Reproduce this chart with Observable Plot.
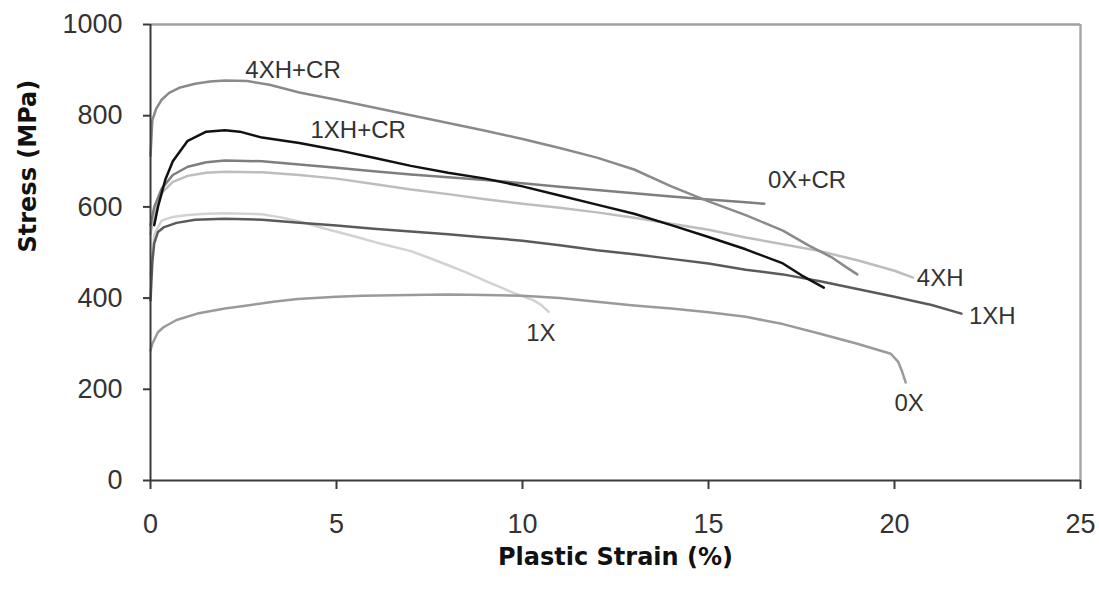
<!DOCTYPE html>
<html>
<head>
<meta charset="utf-8">
<script src="https://cdn.jsdelivr.net/npm/d3@7"></script>
<script src="https://cdn.jsdelivr.net/npm/@observablehq/plot@0.6"></script>
<style>
  html, body { margin: 0; padding: 0; background: #ffffff; }
  #chart { width: 1099px; height: 592px; }
</style>
</head>
<body>
<div id="chart"></div>
<script>
// ---- Data ----
const seriesNames = ["4XH+CR", "1XH+CR", "0X+CR", "4XH", "1XH", "1X", "0X"];

const strain_4XHCR = [0, 0.05, 0.15, 0.3, 0.5, 0.8, 1.2, 1.6, 2.0, 2.6, 3.2, 4.0, 5.0, 6.0, 7.0, 8.0, 9.0, 10.0, 11.0, 12.0, 13.0, 14.0, 15.0, 16.0, 17.0, 17.7, 18.3, 18.7, 19.0];
const stress_4XHCR = [712, 790, 815, 835, 850, 862, 870, 875, 877, 876, 868, 851, 835, 818, 801, 784, 767, 749, 729, 708, 682, 645, 612, 582, 548, 515, 490, 468, 452];

const strain_1XHCR = [0.1, 0.2, 0.4, 0.6, 1.0, 1.5, 2.0, 2.4, 3.0, 4.0, 5.0, 6.0, 7.0, 8.0, 9.0, 10.0, 11.0, 12.0, 13.0, 14.0, 15.0, 16.0, 17.0, 17.5, 18.1];
const stress_1XHCR = [560, 600, 660, 700, 745, 765, 768, 765, 752, 740, 725, 708, 690, 675, 662, 645, 625, 605, 585, 560, 534, 507, 476, 450, 423];

const strain_0XCR = [0, 0.1, 0.3, 0.6, 1.0, 1.5, 2.0, 3.0, 4.0, 5.0, 6.0, 7.0, 8.0, 9.0, 10.0, 11.0, 12.0, 13.0, 14.0, 15.0, 16.0, 16.5];
const stress_0XCR = [560, 600, 640, 670, 688, 698, 702, 700, 693, 686, 678, 671, 665, 659, 652, 644, 637, 630, 623, 616, 610, 607];

const strain_4XH = [0, 0.1, 0.3, 0.6, 1.0, 1.5, 2.0, 3.0, 4.0, 5.0, 6.0, 7.0, 8.0, 9.0, 10.0, 11.0, 12.0, 13.0, 14.0, 15.0, 16.0, 17.0, 18.0, 19.0, 20.0, 20.5];
const stress_4XH = [540, 585, 630, 655, 668, 675, 677, 676, 670, 662, 650, 638, 628, 617, 607, 598, 588, 576, 563, 550, 533, 518, 503, 483, 460, 445];

const strain_1XH = [0, 0.05, 0.1, 0.2, 0.35, 0.7, 1.2, 2.0, 3.0, 4.0, 5.0, 6.0, 7.0, 8.0, 9.0, 10.0, 11.0, 12.0, 13.0, 14.0, 15.0, 16.0, 17.0, 18.0, 19.0, 20.0, 20.6, 21.0, 21.8];
const stress_1XH = [395, 480, 520, 545, 555, 565, 572, 574, 572, 565, 559, 552, 546, 540, 533, 526, 516, 505, 496, 486, 476, 462, 452, 437, 420, 403, 392, 385, 366];

const strain_1X = [0, 0.1, 0.3, 0.6, 1.0, 1.5, 2.0, 3.0, 3.5, 4.0, 4.8, 5.5, 6.2, 7.0, 7.5, 8.0, 8.5, 9.0, 9.4, 9.8, 10.3, 10.5, 10.7];
const stress_1X = [450, 540, 570, 578, 582, 585, 586, 584, 577, 568, 550, 535, 519, 503, 488, 472, 456, 438, 424, 410, 395, 385, 370];

const strain_0X = [0, 0.05, 0.2, 0.35, 0.7, 1.26, 2.0, 2.6, 3.3, 3.95, 5.0, 5.7, 7.0, 8.0, 9.0, 10.0, 11.0, 12.0, 13.0, 14.0, 15.0, 16.0, 17.0, 18.0, 19.0, 19.9, 20.1, 20.2, 20.3];
const stress_0X = [285, 300, 325, 336, 352, 366, 377, 384, 392, 398, 403, 405, 407, 408, 407, 405, 400, 392, 384, 377, 369, 359, 343, 322, 300, 278, 260, 240, 215];

const labelText = ["4XH+CR", "1XH+CR", "0X+CR", "4XH", "1XH", "1X", "0X"];
const labelStrain = [2.55, 4.3, 16.6, 20.6, 22.0, 10.1, 20.0];
const labelStress = [899, 768, 658, 443, 360, 322, 169];

const xTicks = [0, 5, 10, 15, 20, 25];
const yTicks = [0, 200, 400, 600, 800, 1000];

// ---- Build table ----
const strainArrays = [strain_4XHCR, strain_1XHCR, strain_0XCR, strain_4XH, strain_1XH, strain_1X, strain_0X];
const stressArrays = [stress_4XHCR, stress_1XHCR, stress_0XCR, stress_4XH, stress_1XH, stress_1X, stress_0X];
const colors = {
  "4XH+CR": "#8a8a8a",
  "1XH+CR": "#111111",
  "0X+CR": "#7e7e7e",
  "4XH": "#bdbdbd",
  "1XH": "#5a5a5a",
  "1X": "#d2d2d2",
  "0X": "#9a9a9a"
};
const drawOrder = ["1X", "4XH", "0X", "0X+CR", "1XH", "4XH+CR", "1XH+CR"];
const rows = [];
drawOrder.forEach(name => {
  const i = seriesNames.indexOf(name);
  strainArrays[i].forEach((s, j) => rows.push({series: name, strain: s, stress: stressArrays[i][j]}));
});
const labels = labelText.map((t, i) => ({text: t, strain: labelStrain[i], stress: labelStress[i]}));

const tickFont = "'Liberation Sans', Arial, sans-serif";
const titleFont = "'DejaVu Sans', Verdana, sans-serif";

const chart = Plot.plot({
  width: 1099,
  height: 592,
  marginLeft: 150,
  marginRight: 19,
  marginTop: 24,
  marginBottom: 112,
  style: {background: "#ffffff", fontFamily: tickFont, color: "#222"},
  x: {domain: [0, 25]},
  y: {domain: [0, 1000]},
  marks: [
    Plot.ruleY([1000], {stroke: "#a0a0a0", strokeWidth: 2.5}),
    Plot.ruleX([25], {stroke: "#a8a8a8", strokeWidth: 2.5}),
    Plot.line(rows, {
      x: "strain", y: "stress", z: "series",
      stroke: d => colors[d.series],
      strokeWidth: 2.5, strokeLinejoin: "round", strokeLinecap: "round", curve: "linear"
    }),
    Plot.ruleX([0], {stroke: "#3a3a3a", strokeWidth: 2}),
    Plot.ruleY([0], {stroke: "#3a3a3a", strokeWidth: 2}),
    Plot.axisY({ticks: yTicks, tickFormat: d => String(d), tickSize: 7, tickPadding: 21, fontSize: 27, label: null, stroke: "#3a3a3a", strokeWidth: 2, fill: "#333"}),
    Plot.axisX({ticks: xTicks, tickFormat: d => String(d), tickSize: 9, tickPadding: 24, fontSize: 27, label: null, stroke: "#3a3a3a", strokeWidth: 2, fill: "#333"}),
    Plot.text(labels, {x: "strain", y: "stress", text: "text", textAnchor: "start", lineAnchor: "middle", fontSize: 24, fill: "#333"}),
    Plot.text(["Plastic Strain (%)"], {frameAnchor: "bottom", dy: 77, lineAnchor: "middle", fontSize: 24, fontWeight: "bold", fontFamily: titleFont, fill: "#111"}),
    Plot.text(["Stress (MPa)"], {frameAnchor: "left", dx: -122, rotate: -90, lineAnchor: "middle", fontSize: 24, fontWeight: "bold", fontFamily: titleFont, fill: "#111"})
  ]
});
document.getElementById("chart").appendChild(chart);
</script>
</body>
</html>
